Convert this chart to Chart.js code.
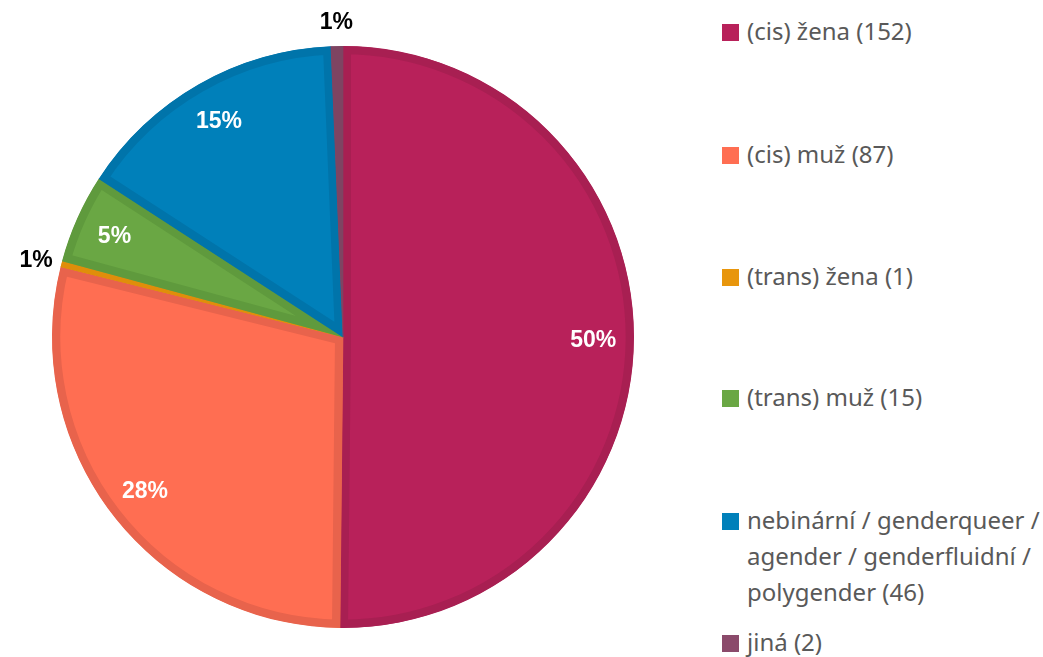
<!DOCTYPE html>
<html>
<head>
<meta charset="utf-8">
<script src="https://cdn.jsdelivr.net/npm/chart.js@4"></script>
<style>
  body { margin: 0; background: #fff; width: 1043px; height: 657px; overflow: hidden; position: relative; font-family: "Noto Sans", sans-serif; }
  #wrap { position: absolute; left: 0; top: 0; width: 686px; height: 657px; }
  #legend { position: absolute; left: 0; top: 0; }
  .item { position: absolute; left: 722px; color: #595959; font-size: 24px; line-height: 36px; }
  .item .box { position: absolute; left: 0; top: 10px; width: 17px; height: 17px; }
  .item .txt { position: absolute; left: 25px; top: -1px; width: 310px; white-space: nowrap; }
</style>
</head>
<body>
<div id="wrap"><canvas id="pie"></canvas></div>
<div id="legend"></div>
<script>
// Data
const categories = ["(cis) žena (152)", "(cis) muž (87)", "(trans) žena (1)", "(trans) muž (15)",
  "nebinární / genderqueer /\nagender / genderfluidní /\npolygender (46)", "jiná (2)"];
const counts = [152, 87, 1, 15, 46, 2];
const pctLabels = ["50%", "28%", "1%", "5%", "15%", "1%"];
const fills = ["#B8215A", "#FF6E52", "#E8960C", "#6AA744", "#0080BA", "#8B4A6B"];
const borders = ["#A81F52", "#E8634C", "#E08E0A", "#5F9A3D", "#0074AA", "#7E4462"];

// Percent labels drawn on/around slices
const sliceLabels = {
  id: "sliceLabels",
  afterDatasetsDraw(chart) {
    const ctx = chart.ctx;
    const meta = chart.getDatasetMeta(0);
    const total = counts.reduce((a, b) => a + b, 0);
    ctx.save();
    ctx.font = "bold 23px 'Liberation Sans', Arial, sans-serif";
    ctx.textAlign = "center";
    ctx.textBaseline = "middle";
    meta.data.forEach((arc, i) => {
      const p = arc.getProps(["x", "y", "startAngle", "endAngle", "outerRadius"], true);
      const mid = (p.startAngle + p.endAngle) / 2;
      const outside = counts[i] / total < 0.02;
      const r = outside ? p.outerRadius + 26 : p.outerRadius * 0.86;
      ctx.fillStyle = outside ? "#000" : "#fff";
      ctx.fillText(pctLabels[i], p.x + Math.cos(mid) * r, p.y + Math.sin(mid) * r + (outside ? 3 : 2));
    });
    ctx.restore();
  }
};

new Chart(document.getElementById("pie"), {
  type: "pie",
  data: {
    labels: categories,
    datasets: [{
      data: counts,
      backgroundColor: fills,
      borderColor: borders,
      borderWidth: 8,
      hoverBorderWidth: 8,
      borderAlign: "inner"
    }]
  },
  options: {
    responsive: true,
    maintainAspectRatio: false,
    animation: false,
    events: [],
    layout: { padding: { top: 46, bottom: 29 } },
    plugins: { legend: { display: false }, tooltip: { enabled: false } }
  },
  plugins: [sliceLabels]
});

// Legend
const rowTops = [14, 137, 259, 380, 503, 625];
const legend = document.getElementById("legend");
categories.forEach((c, i) => {
  const item = document.createElement("div");
  item.className = "item";
  item.style.top = rowTops[i] + "px";
  item.innerHTML = `<div class="box" style="background:${fills[i]}"></div>`;
  const txt = document.createElement("div");
  txt.className = "txt";
  txt.innerHTML = c.split("\n").join("<br>");
  item.appendChild(txt);
  legend.appendChild(item);
});
</script>
</body>
</html>
